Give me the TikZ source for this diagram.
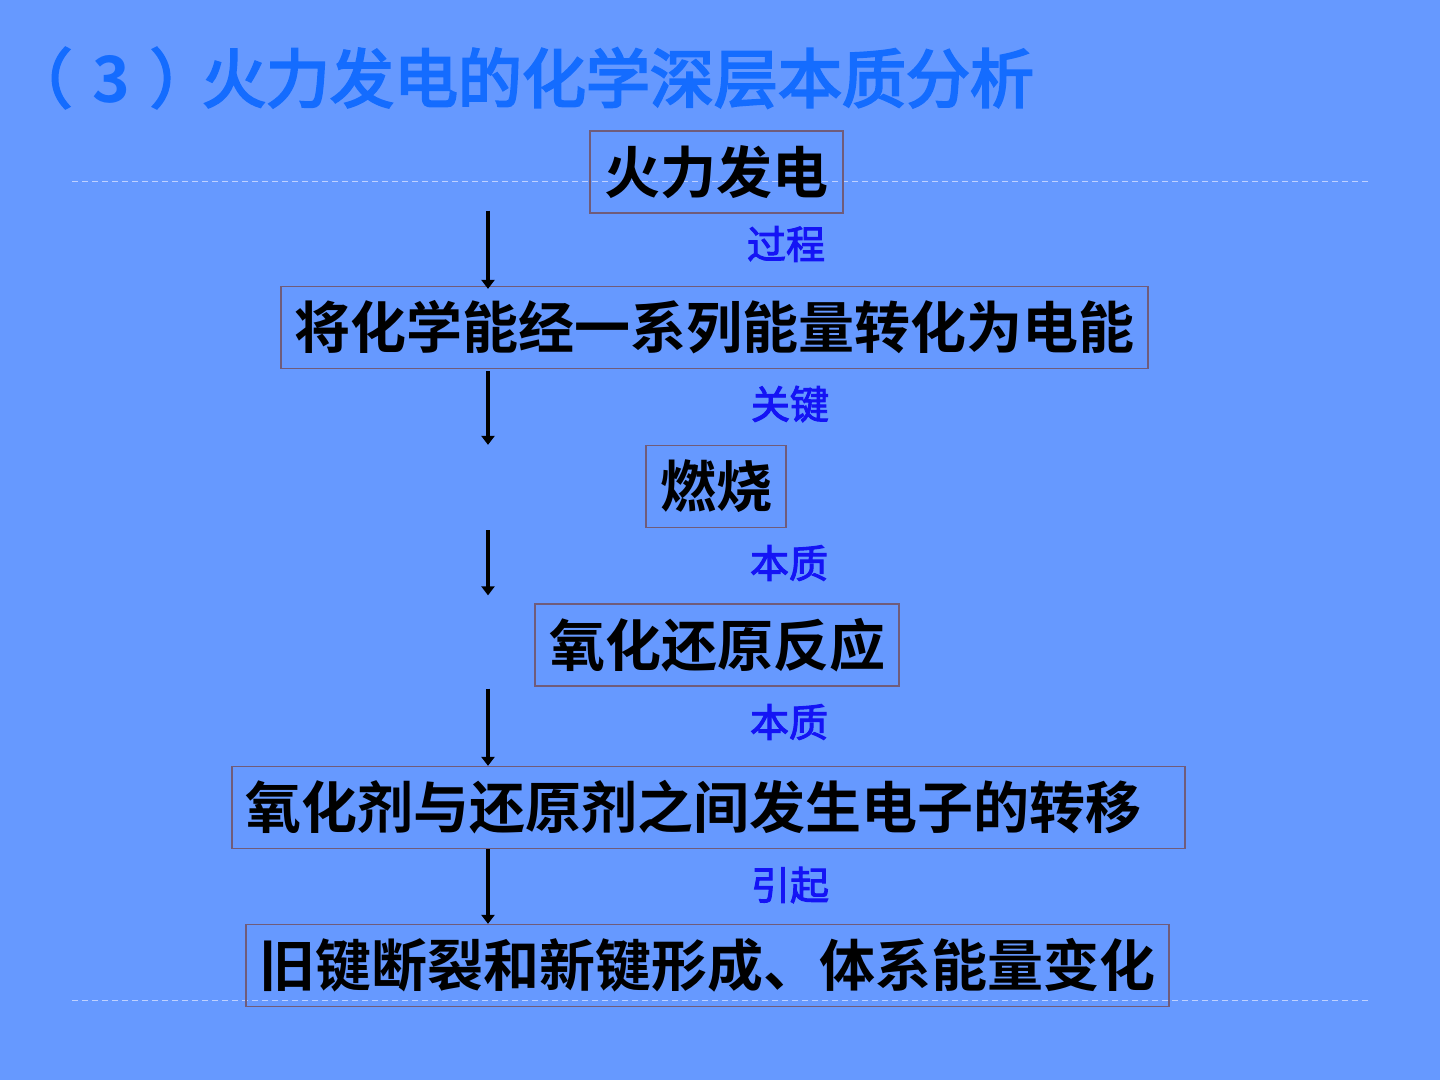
\documentclass[tikz,border=0pt]{standalone}
\usepackage{fontspec}
\newfontfamily\cjk{Noto Sans CJK SC}[BoldFont={* Bold}]
\newfontfamily\cjkt{Noto Sans CJK SC}[FakeBold=3.5]
\newfontfamily\cjkl{Noto Sans CJK SC}[FakeBold=2.5]
\usetikzlibrary{arrows.meta}
\definecolor{bgblue}{RGB}{102,153,255}
\definecolor{titleblue}{RGB}{20,108,255}
\definecolor{lblblue}{RGB}{20,20,245}
\definecolor{boxline}{RGB}{112,92,122}
\definecolor{dashc}{RGB}{190,208,255}
\tikzset{
  stepbox/.style={draw=boxline, line width=1.3pt, rectangle, inner sep=0pt,
    minimum height=82pt, font=\cjk\bfseries\fontsize{56}{62}\selectfont, text=black},
  lbl/.style={font=\cjkl\fontsize{39}{43}\selectfont, text=lblblue, inner sep=0pt},
  arr/.style={line width=3.6pt, -{Triangle[length=9pt,width=13pt]}},
  sep/.style={draw=dashc, line width=1pt, dash pattern=on 6pt off 4pt}
}
\begin{document}
\begin{tikzpicture}[x=1pt,y=-1pt]
\fill[bgblue] (0,0) rectangle (1440,1080);
\useasboundingbox (0,0) rectangle (1440,1080);
\node[anchor=west, inner sep=0pt, text=titleblue, font=\cjkt\fontsize{64}{70}\selectfont] (title) at (8,78) {（\hspace{20pt}{\cjk\bfseries 3}\hspace{20pt}）\hspace{-12pt}火力发电的化学深层本质分析};
\coordinate (l1a) at (72,181); \coordinate (l1b) at (1368,181);
\coordinate (l2a) at (72,1000); \coordinate (l2b) at (1368,1000);
\draw[sep] (l1a) -- (l1b);
\draw[sep] (l2a) -- (l2b);
\node[stepbox, minimum width=253pt] (b1) at (716.5,172) {火力发电};
\node[stepbox, minimum width=867pt] (b2) at (714.5,327.5) {将化学能经一系列能量转化为电能};
\node[stepbox, minimum width=140pt] (b3) at (716,486.5) {燃烧};
\node[stepbox, minimum width=364pt] (b4) at (717,645) {氧化还原反应};
\node[stepbox, minimum width=953pt, text width=927pt, align=left, inner xsep=13pt] (b5) at (708.5,807.5) {氧化剂与还原剂之间发生电子的转移};
\node[stepbox, minimum width=923pt] (b6) at (707.5,965.5) {旧键断裂和新键形成、体系能量变化};
\node[lbl] (t1) at (786,244) {过程};
\node[lbl] (t2) at (790,404) {关键};
\node[lbl] (t3) at (789,563) {本质};
\node[lbl] (t4) at (789,722) {本质};
\node[lbl] (t5) at (790,885) {引起};
\coordinate (ax) at (488,0);
\draw[arr, shorten <=-3pt, shorten >=-3pt] (b1.south -| ax) -- (b2.north -| ax);
\draw[arr, shorten <=2pt] (b2.south -| ax) -- (b3.north -| ax);
\draw[arr, shorten <=2pt, shorten >=8pt] (b3.south -| ax) -- (b4.north -| ax);
\draw[arr, shorten <=2pt] (b4.south -| ax) -- (b5.north -| ax);
\draw[arr] (b5.south -| ax) -- (b6.north -| ax);
\end{tikzpicture}
\end{document}
